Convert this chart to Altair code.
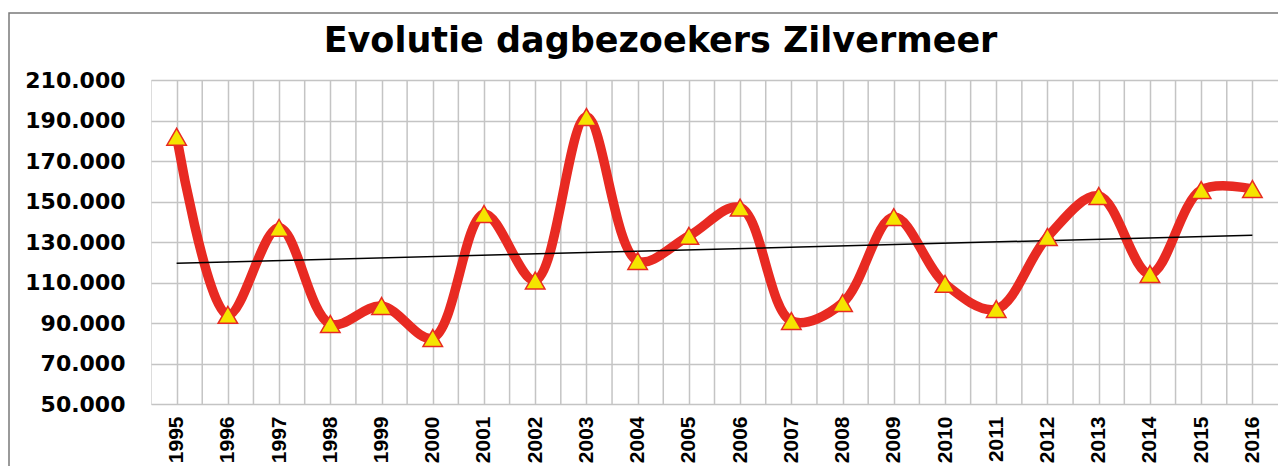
import altair as alt
import pandas as pd

years = list(range(1995, 2017))
visitors = [182000, 94000, 137000, 89500, 98400, 82600, 143800, 111000, 191700,
            120600, 133000, 147000, 91000, 99900, 142300, 109300, 96900, 132500,
            152700, 114200, 155700, 156200]
y_ticks = [50000, 70000, 90000, 110000, 130000, 150000, 170000, 190000, 210000]
title_text = "Evolutie dagbezoekers Zilvermeer"

df = pd.DataFrame({"jaar": years, "bezoekers": visitors})
# category boundaries (between the years) for the extra vertical grid lines
half_df = pd.DataFrame({"jaar": [y + 0.5 for y in years[:-1]]})

RED = "#E82A22"
YELLOW = "#F5E400"
GRID = "#C4C4C4"

x_enc = alt.X(
    "jaar:Q",
    scale=alt.Scale(domain=[years[0] - 0.5, years[-1] + 0.5], nice=False, zero=False),
    axis=alt.Axis(
        values=years,
        format="d",
        labelAngle=270,
        labelFont="Liberation Sans",
        labelFontWeight="bold",
        labelFontSize=21,
        labelColor="black",
        labelPadding=12,
        ticks=False,
        domain=False,
        grid=True,
        gridColor=GRID,
        gridWidth=1.5,
        title=None,
    ),
)
y_enc = alt.Y(
    "bezoekers:Q",
    scale=alt.Scale(domain=[y_ticks[0], y_ticks[-1]], nice=False, zero=False),
    axis=alt.Axis(
        values=y_ticks,
        format=",.0f",
        labelExpr="replace(datum.label, ',', '.')",
        labelFont="DejaVu Sans",
        labelFontWeight="bold",
        labelFontSize=22,
        labelColor="black",
        labelPadding=26,
        ticks=False,
        domain=False,
        grid=True,
        gridColor=GRID,
        gridWidth=1.5,
        title=None,
    ),
)

base = alt.Chart(df).encode(x=x_enc, y=y_enc)

# outer chart-area border (decoration)
frame_df = pd.DataFrame({"a": [0]})
frame = alt.Chart(frame_df).mark_rect(
    fill="transparent", stroke="#7A7A7A", strokeWidth=1.5
).encode(
    x=alt.value(-142), x2=alt.value(1180), y=alt.value(-67), y2=alt.value(420)
)

half_grid = alt.Chart(half_df).mark_rule(color=GRID, strokeWidth=1.5).encode(x=x_enc)

line = base.mark_line(interpolate="catmull-rom", color=RED, strokeWidth=9.5)

trend = base.transform_regression("jaar", "bezoekers").mark_line(
    color="black", strokeWidth=1.5
)

points = base.mark_point(
    shape="triangle-up", filled=True, fill=YELLOW, stroke=RED,
    strokeWidth=1.5, size=380, opacity=1
)

chart = alt.layer(frame, half_grid, line, trend, points).properties(
    width=1127,
    height=324,
    autosize=alt.AutoSizeParams(type="none"),
    padding={"left": 143, "top": 72, "right": 0, "bottom": 62},
    title=alt.TitleParams(
        text=title_text,
        font="DejaVu Sans",
        fontWeight="bold",
        fontSize=35,
        color="black",
        anchor="middle",
        dx=-54,
        dy=75,
        baseline="alphabetic",
        offset=0,
    ),
).configure_view(
    stroke="#A6A6A6", strokeWidth=1.5
).configure(background="white")

chart.save("out.html", embed_options={"renderer": "svg", "actions": False})
